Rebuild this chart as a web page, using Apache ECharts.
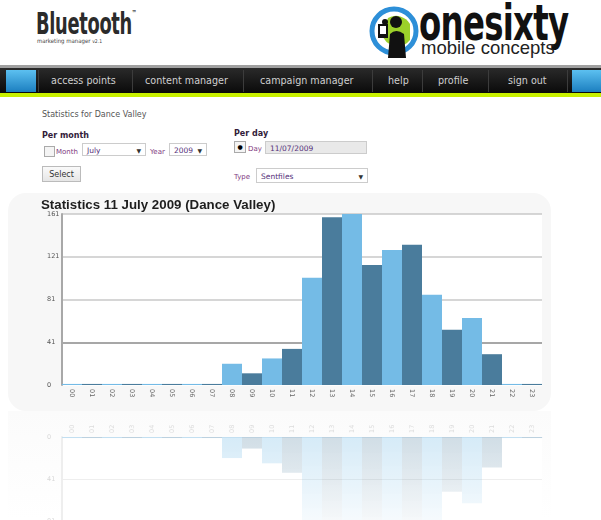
<!DOCTYPE html>
<html>
<head>
<meta charset="utf-8">
<script src="https://cdn.jsdelivr.net/npm/echarts@6/dist/echarts.min.js"></script>
<style>
  html,body{margin:0;padding:0;background:#fff;}
  #page{position:relative;width:601px;height:520px;overflow:hidden;background:#fff;font-family:"DejaVu Sans",Verdana,sans-serif;}
  .abs{position:absolute;white-space:nowrap;}
  .nav{position:absolute;left:0;top:68px;width:601px;height:25px;background:linear-gradient(#2a2a2a,#0a0a0a);}
  .navtop{position:absolute;left:0;top:65px;width:601px;height:3px;background:#a0a0a0;}
  .green{position:absolute;left:0;top:93px;width:601px;height:4px;background:#c8f000;}
  .blue{position:absolute;top:70px;height:22px;background:linear-gradient(#5cc0f0,#1c7fc0);}
  .navitem{position:absolute;top:75px;color:#d0d0d0;font-size:9.6px;font-family:"DejaVu Sans",sans-serif;}
  .sep{position:absolute;top:70px;width:1px;height:22px;background:#3c3c3c;}
  .small{font-size:8px;color:#555;}
  .lbl{font-size:7px;color:#803a80;}
  .bold{font-weight:bold;font-size:8px;color:#331c3a;}
  .sel{position:absolute;border:1px solid #ccc;background:#fff;height:13px;font-size:7.5px;color:#55307a;line-height:13px;padding-left:4px;box-sizing:border-box;}
  .arrow{position:absolute;right:4px;top:0;font-size:6px;color:#333;}
  #panel{position:absolute;left:8px;top:193px;width:543px;height:218px;background:#f7f7f7;border-radius:18px;}
  #panel2{position:absolute;left:8px;top:411px;width:543px;height:109px;background:linear-gradient(#fbfbfb,#ffffff);}
  #chart{position:absolute;left:0;top:190px;width:601px;height:420px;}
</style>
</head>
<body>
<div id="page">
  <!-- header logos -->
  <div class="abs" style="left:36px;top:5px;font-family:'DejaVu Sans Condensed',sans-serif;font-weight:bold;font-size:31px;color:#2b2b2b;letter-spacing:-0.5px;transform:scaleX(0.64);transform-origin:left top;">Bluetooth<sup style="font-size:8px;vertical-align:top;position:relative;top:4px;">™</sup></div>
  <div class="abs" style="left:37px;top:37px;font-size:6px;color:#444;font-family:'DejaVu Sans Condensed',sans-serif;">marketing manager <span style="font-size:5px">v2.1</span></div>

  <svg class="abs" style="left:368px;top:4px;" width="52" height="56" viewBox="0 0 52 56">
    <circle cx="26" cy="27" r="22" fill="#ffffff" stroke="#2d8fd8" stroke-width="5"/>
    <path d="M14 30 A16 16 0 0 0 42 36 L42 20 A16 16 0 0 0 20 14 Z" fill="#9cd02a"/>
    <circle cx="28" cy="18" r="6" fill="#111"/>
    <path d="M20 54 L22 30 Q28 24 36 30 L38 54 Z" fill="#111"/>
    <rect x="10" y="20" width="10" height="14" fill="#111"/>
    <rect x="12" y="22" width="6" height="8" fill="#fff"/>
    <circle cx="17" cy="18" r="3" fill="#111"/>
  </svg>
  <div class="abs" style="left:419px;top:-6px;font-family:'DejaVu Sans Condensed',sans-serif;font-weight:bold;font-size:50px;color:#111;letter-spacing:-1px;transform:scaleX(0.72);transform-origin:left top;">onesixty</div>
  <div class="abs" style="left:421px;top:37px;font-family:'Liberation Sans','DejaVu Sans',sans-serif;font-size:18.5px;color:#222;">mobile concepts</div>

  <!-- nav -->
  <div class="navtop"></div>
  <div class="nav"></div>
  <div class="blue" style="left:6px;width:30px;"></div>
  <div class="blue" style="left:572px;width:29px;"></div>
  <div class="sep" style="left:38px"></div>
  <div class="sep" style="left:132px"></div>
  <div class="sep" style="left:243px"></div>
  <div class="sep" style="left:372px"></div>
  <div class="sep" style="left:422px"></div>
  <div class="sep" style="left:488px"></div>
  <div class="sep" style="left:567px"></div>
  <div class="navitem" style="left:51px">access points</div>
  <div class="navitem" style="left:145px">content manager</div>
  <div class="navitem" style="left:260px">campaign manager</div>
  <div class="navitem" style="left:388px">help</div>
  <div class="navitem" style="left:438px">profile</div>
  <div class="navitem" style="left:508px">sign out</div>
  <div class="green"></div>

  <!-- form -->
  <div class="abs small" style="left:42px;top:110px;">Statistics for Dance Valley</div>
  <div class="abs bold" style="left:42px;top:131px;">Per month</div>
  <div class="abs" style="left:44px;top:146px;width:9px;height:9px;border:1px solid #aaa;background:#f4f4f4;"></div>
  <div class="abs lbl" style="left:56px;top:148px;">Month</div>
  <div class="sel" style="left:82px;top:143px;width:64px;">July<span class="arrow">▼</span></div>
  <div class="abs lbl" style="left:150px;top:148px;">Year</div>
  <div class="sel" style="left:169px;top:143px;width:38px;">2009<span class="arrow">▼</span></div>
  <div class="abs" style="left:42px;top:166px;width:39px;height:16px;border:1px solid #bbb;background:linear-gradient(#fafafa,#e6e6e6);font-size:8px;color:#333;text-align:center;line-height:15px;box-sizing:border-box;">Select</div>

  <div class="abs bold" style="left:234px;top:129px;">Per day</div>
  <div class="abs" style="left:234px;top:141px;width:10px;height:10px;border:1px solid #aaa;background:#f4f4f4;font-size:6px;line-height:9px;text-align:center;">●</div>
  <div class="abs lbl" style="left:248px;top:145px;">Day</div>
  <div class="sel" style="left:265px;top:141px;width:102px;background:#e9e9e9;color:#55307a;">11/07/2009</div>
  <div class="abs lbl" style="left:234px;top:173px;">Type</div>
  <div class="sel" style="left:256px;top:168px;width:112px;height:15px;line-height:15px;">Sentfiles<span class="arrow">▼</span></div>

  <div id="panel"></div>
  <div id="panel2"></div>
  <div id="chart"></div>
</div>
<script>
// ---- data ----
var hours = ['00','01','02','03','04','05','06','07','08','09','10','11','12','13','14','15','16','17','18','19','20','21','22','23'];
var sentfiles = [1, 1, 1, 1, 1, 1, 1, 1, 20, 11, 25, 34, 101, 158, 161, 113, 127, 132, 85, 52, 63, 29, 1, 1];
var yMax = 161;
var yStep = 40.25;
var lightBlue = '#74bbe6';
var darkBlue = '#4a7c9c';

var chart = echarts.init(document.getElementById('chart'), null, {renderer: 'canvas'});

function reflColor(c, a0, a1) {
  return new echarts.graphic.LinearGradient(0, 247, 0, 335, [
    {offset: 0, color: c.replace('A', a0)},
    {offset: 1, color: c.replace('A', a1)}
  ], true);
}
var reflLight = reflColor('rgba(116,187,230,A)', 0.30, 0.05);
var reflDark = reflColor('rgba(74,124,156,A)', 0.26, 0.04);

var option = {
  animation: false,
  title: {
    text: 'Statistics 11 July 2009 (Dance Valley)',
    left: 41, top: 9, padding: 0,
    textStyle: {fontFamily: 'Liberation Sans, Arial, sans-serif', fontWeight: 'bold', fontSize: 13.3, color: '#1e1e1e'}
  },
  grid: [
    {left: 62, right: 59, top: 24, bottom: 225, show: true, backgroundColor: '#ffffff', borderWidth: 0},
    {left: 62, right: 59, top: 247, bottom: 2, show: true, backgroundColor: 'rgba(255,255,255,0.9)', borderWidth: 0}
  ],
  xAxis: [
    {
      type: 'category', data: hours, gridIndex: 0,
      axisLine: {show: false}, axisTick: {show: false},
      axisLabel: {rotate: -90, fontSize: 6.5, color: '#666', margin: 4, fontFamily: 'DejaVu Sans'}
    },
    {
      type: 'category', data: hours, gridIndex: 1, position: 'top',
      axisLine: {show: true, lineStyle: {color: '#e4eef6', width: 1}}, axisTick: {show: false},
      axisLabel: {rotate: 90, fontSize: 6.5, color: '#dcdcdc', margin: 4, fontFamily: 'DejaVu Sans'}
    }
  ],
  yAxis: [
    {
      type: 'value', gridIndex: 0, min: 0, max: yMax, interval: yStep,
      axisLine: {show: true, lineStyle: {color: '#a8a8a8', width: 2}},
      axisTick: {show: false},
      axisLabel: {fontSize: 6.5, color: '#555', align: 'left', margin: 15, fontFamily: 'DejaVu Sans',
        formatter: function (v) { return String(Math.ceil(v)); }},
      splitLine: {show: true, lineStyle: {color: ['#ffffff', '#8a8a8a', '#c8c8c8', '#c8c8c8', '#c8c8c8'], width: 1.6}}
    },
    {
      type: 'value', gridIndex: 1, min: 0, max: yMax, interval: yStep, inverse: true,
      axisLine: {show: true, lineStyle: {color: '#eeeeee', width: 2}},
      axisTick: {show: false},
      axisLabel: {fontSize: 6.5, color: '#d8d8d8', align: 'left', margin: 15, fontFamily: 'DejaVu Sans',
        formatter: function (v) { return String(Math.ceil(v)); }},
      splitLine: {show: true, lineStyle: {color: ['#ffffff', '#eeeeee', '#f6f6f6', '#fafafa', '#fcfcfc'], width: 1}}
    }
  ],
  series: [
    {
      type: 'bar', xAxisIndex: 0, yAxisIndex: 0, data: sentfiles,
      barCategoryGap: '0%',
      itemStyle: {color: function (p) { return p.dataIndex % 2 === 0 ? lightBlue : darkBlue; }}
    },
    {
      type: 'bar', xAxisIndex: 1, yAxisIndex: 1, data: sentfiles,
      barCategoryGap: '0%', silent: true,
      itemStyle: {color: function (p) { return p.dataIndex % 2 === 0 ? reflLight : reflDark; }}
    }
  ]
};
chart.setOption(option);
</script>
</body>
</html>
